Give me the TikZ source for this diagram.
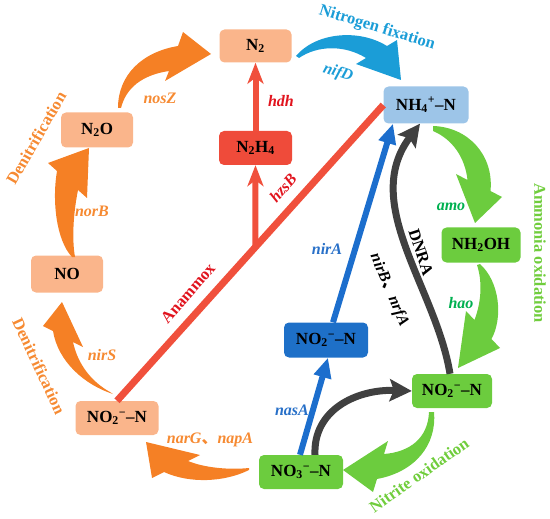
\documentclass[tikz,border=0pt]{standalone}
\usepackage{fontspec}
\setmainfont{Liberation Serif}
\newfontfamily\cjk{Noto Sans CJK SC}
\usetikzlibrary{arrows.meta,calc}
\definecolor{lorange}{RGB}{250,181,139}
\definecolor{orangeA}{RGB}{245,128,37}
\definecolor{orangeT}{RGB}{246,138,50}
\definecolor{redL}{RGB}{240,80,60}
\definecolor{redB}{RGB}{239,75,58}
\definecolor{redT}{RGB}{225,20,30}
\definecolor{lblue}{RGB}{157,197,232}
\definecolor{fixblue}{RGB}{27,157,215}
\definecolor{dblue}{RGB}{30,112,200}
\definecolor{blueL}{RGB}{28,110,205}
\definecolor{blueT}{RGB}{40,112,200}
\definecolor{greenA}{RGB}{108,204,62}
\definecolor{greenT}{RGB}{112,205,60}
\definecolor{tealT}{RGB}{0,176,80}
\definecolor{greyA}{RGB}{64,64,64}
\begin{document}
\begin{tikzpicture}[x=1pt,y=-1pt,
 box/.style={rounded corners=5pt, inner sep=0pt, font=\fontsize{17}{20}\selectfont\bfseries, text=black},
 lab/.style={font=\fontsize{16.5}{19}\selectfont\bfseries, inner sep=0pt},
 gene/.style={font=\fontsize{16}{19}\selectfont\bfseries\itshape, inner sep=0pt},
 redline/.style={draw=redL, line width=7pt},
 redarrow/.style={draw=redL, line width=6pt, -{Stealth[length=21pt,width=16pt,inset=6pt]}},
 bluearrow/.style={draw=blueL, line width=6pt, -{Triangle[length=20pt,width=17pt]}},
 greyarrow/.style={draw=greyA, line width=7pt, -{Stealth[length=22pt,width=22pt,inset=4pt]}},
 ]
\useasboundingbox (0,0) rectangle (550,519);

% nodes
\node[box, fill=lorange, minimum width=72pt, minimum height=33pt] (n2) at (255.5,46) {N\textsubscript{2}};
\node[box, fill=lorange, minimum width=72pt, minimum height=35pt] (n2o) at (97,130) {N\textsubscript{2}O};
\node[box, fill=lorange, minimum width=72pt, minimum height=37pt] (no) at (67,274) {NO};
\node[box, fill=lorange, minimum width=83pt, minimum height=34pt] (no2l) at (117,418) {NO\textsubscript{2}\textsuperscript{−}–N};
\node[box, fill=redB, minimum width=73pt, minimum height=34pt] (n2h4) at (255.5,148) {N\textsubscript{2}H\textsubscript{4}};
\node[box, fill=lblue, minimum width=85pt, minimum height=37pt] (nh4) at (426,105) {NH\textsubscript{4}\textsuperscript{+}–N};
\node[box, fill=greenA, minimum width=79pt, minimum height=35pt] (nh2oh) at (481,245) {NH\textsubscript{2}OH};
\node[box, fill=greenA, minimum width=80pt, minimum height=34pt] (no2g) at (452,391) {NO\textsubscript{2}\textsuperscript{−}–N};
\node[box, fill=greenA, minimum width=84pt, minimum height=34pt] (no3) at (301,472) {NO\textsubscript{3}\textsuperscript{−}–N};
\node[box, fill=dblue, minimum width=84pt, minimum height=35pt] (no2b) at (326,340) {NO\textsubscript{2}\textsuperscript{−}–N};

% anammox
\draw[redline] (no2l.north) -- (nh4.west);
\coordinate (ax) at ($(no2l.north)!0.5197!(nh4.west)$);
\draw[redarrow] (ax) -- (n2h4.south);
\draw[redarrow] (n2h4.north) -- (n2.south);

% blue assimilation
\draw[bluearrow] ([xshift=-1pt]no3.north) -- ([xshift=2pt]no2b.south);
\draw[bluearrow] ([xshift=7pt]no2b.north) -- ([xshift=-33pt]nh4.south);

% grey arrows
\draw[greyarrow] ([xshift=14pt]no3.north) .. controls +(-2,-45) and +(-55,-2) .. (no2g.west);
\draw[greyarrow] ([xshift=-2pt]no2g.north) .. controls +(-14,-86) and +(-60,80) .. ([xshift=-6pt]nh4.south);

% fat arrows
\fill[orangeA] (118,108) .. controls (118,75) and (142,52) .. (178,46) -- (183,32) -- (211,54) -- (165,81) -- (169,71) .. controls (142,75) and (126,88) .. (121,108) -- cycle;
\fill[orangeA] (72,257) .. controls (56,240) and (52,200) .. (57,171) -- (48,163) -- (89,148) -- (87,198) -- (78,190) .. controls (73,215) and (72,240) .. (75,257) -- cycle;
\fill[orangeA] (113,394) .. controls (85,385) and (58,362) .. (53,331) -- (43,326) -- (62,302) -- (83,347) -- (73,342) .. controls (78,365) and (92,382) .. (110,392) -- cycle;
\fill[orangeA] (249,468) .. controls (230,470) and (205,468) .. (188,461) -- (200,455) -- (146,442) -- (152,478) -- (164,472) .. controls (190,484) and (225,482) .. (249,470) -- cycle;
\fill[greenA] (434,412) .. controls (437,445) and (415,472) .. (377,479) -- (373,492) -- (343,470) -- (388,441) -- (384,454) .. controls (410,452) and (428,438) .. (429,412) -- cycle;
\fill[greenA] (433,126) .. controls (468,127) and (494,155) .. (490.5,191) -- (502,197) -- (475,223) -- (456,174) -- (467.5,180) .. controls (465,157) and (452,139) .. (433,131) -- cycle;
\fill[greenA] (480,264) .. controls (500,282) and (503,318) .. (491.5,339) -- (500,348) -- (458,368) -- (466,311) -- (474.5,320) .. controls (482,300) and (482,280) .. (477,265) -- cycle;
\fill[fixblue] (296,56) .. controls (315,33) and (358,28) .. (387,46) -- (397,40) -- (401,80) -- (356,64) -- (366,58) .. controls (345,45) and (318,45) .. (299,58) -- cycle;

% process labels
\node[lab, text=fixblue, rotate=-17] (lfix) at (377,28) {Nitrogen fixation};
\node[lab, text=greenT, rotate=-90] (lamm) at (540,253) {Ammonia oxidation};
\node[lab, text=greenT, rotate=35] (lnit) at (419,475) {Nitrite oxidation};
\node[lab, text=orangeT, rotate=60] (lden1) at (36,138) {Denitrification};
\node[lab, text=orangeT, rotate=-65] (lden2) at (39,366) {Denitrification};
\node[lab, text=redT, rotate=49] (lana) at (188,293) {Anammox};
\node[lab, text=black, rotate=-72] (ldnra) at (421,252) {DNRA};

% gene labels
\node[gene, text=fixblue, rotate=-18] (gnif) at (338,73) {nifD};
\node[gene, text=redT] (ghdh) at (281,101) {hdh};
\node[gene, text=redT, rotate=49] (ghzs) at (283,188) {hzsB};
\node[gene, text=orangeT] (gnos) at (160,98) {nosZ};
\node[gene, text=orangeT] (gnor) at (92,211) {norB};
\node[gene, text=orangeT] (gnirs) at (102,355) {nirS};
\node[gene, text=orangeT] (gnar) at (210,440) {narG{\cjk\upshape 、}napA};
\node[gene, text=tealT] (gamo) at (451,207) {amo};
\node[gene, text=tealT] (ghao) at (461,303) {hao};
\node[gene, text=blueT] (gnira) at (327,249) {nirA};
\node[gene, text=blueT] (gnasa) at (292,410) {nasA};
\node[gene, text=black, rotate=-67] (gnirb) at (389,290) {nirB{\cjk\upshape 、}nrfA};
\end{tikzpicture}
\end{document}
